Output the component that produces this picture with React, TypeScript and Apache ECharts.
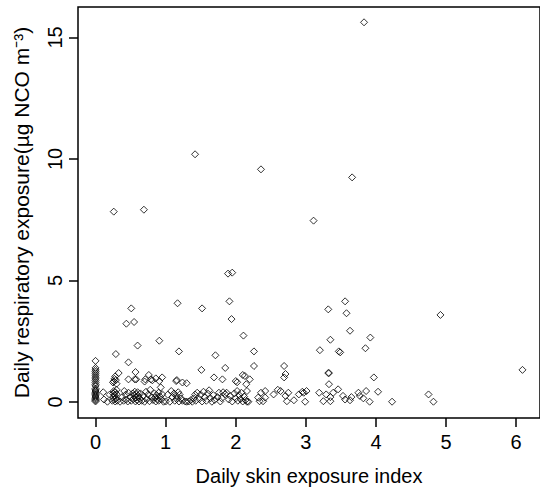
import React, { useEffect, useRef } from "react";
import * as echarts from "echarts";

const xTicks = [0, 1, 2, 3, 4, 5, 6];
const yTicks = [0, 5, 10, 15];

// points above 2
const highPoints: number[][] = [
  [3.83, 15.62], [1.42, 10.19], [2.36, 9.57], [3.66, 9.24], [0.26, 7.83], [0.69, 7.91],
  [3.11, 7.46], [1.89, 5.28], [1.95, 5.32], [1.91, 4.14], [1.17, 4.06], [3.56, 4.14],
  [0.51, 3.85], [1.52, 3.85], [3.32, 3.81], [3.58, 3.65], [4.92, 3.58], [1.94, 3.41],
  [0.44, 3.22], [0.55, 3.29], [3.63, 2.93], [2.11, 2.73], [3.92, 2.65], [3.35, 2.56],
  [0.91, 2.52], [0.6, 2.32], [3.2, 2.13], [1.19, 2.08], [2.26, 2.08], [3.47, 2.08],
  [3.49, 2.04], [3.85, 2.21],
];

// points between 0.6 and 2
const midPoints: number[][] = [
  [0.29, 1.97], [1.71, 1.92], [0.47, 1.63], [2.26, 1.48], [2.69, 1.48], [1.85, 1.4],
  [1.51, 1.32], [6.09, 1.32], [3.32, 1.19], [3.33, 1.19], [2.71, 1.15], [0.33, 1.19],
  [0.57, 1.23], [0.76, 1.11], [2.1, 1.11], [2.13, 1.07], [2.69, 1.01], [3.97, 1.01],
  [0.95, 1.01], [0.86, 0.97], [0.71, 0.93], [1.69, 1.01], [0.47, 0.93], [0.56, 0.93],
  [1.16, 0.9], [1.3, 0.77], [1.81, 0.93], [2.02, 0.81], [2.2, 0.93], [2.15, 0.73],
  [3.33, 0.73], [0.81, 0.89], [0.26, 0.85], [0.27, 0.95], [0.28, 1.05], [0.29, 0.9],
  [0.3, 0.75], [0.58, 0.93], [0.7, 0.84], [0.79, 0.93], [0.91, 0.86], [1.15, 0.86],
  [1.24, 0.8], [2.0, 0.86], [0.25, 0.8],
];

// column at x = 0
const zeroColumn: number[] = [
  0.02, 0.06, 0.1, 0.15, 0.2, 0.25, 0.3, 0.35, 0.4, 0.45, 0.5, 0.55, 0.66, 0.72, 0.8,
  0.88, 0.95, 1.02, 1.1, 1.18, 1.25, 1.32, 1.4, 1.69,
];

// dense band below 0.6
const lowPoints: number[][] = [
  [0.11, 0.4], [0.12, 0.1], [0.17, 0.01], [0.2, 0.3],
  [0.24, 0.05], [0.25, 0.2], [0.25, 0.35], [0.26, 0.45], [0.27, 0.1], [0.27, 0.28],
  [0.28, 0.4], [0.28, 0.02], [0.29, 0.15], [0.3, 0.32], [0.3, 0.5], [0.31, 0.05],
  [0.35, 0.01], [0.38, 0.2], [0.4, 0.05], [0.41, 0.45], [0.43, 0.3], [0.44, 0.1],
  [0.46, 0.02], [0.47, 0.38],
  [0.5, 0.2], [0.51, 0.05], [0.53, 0.35], [0.54, 0.12], [0.55, 0.28], [0.56, 0.42],
  [0.57, 0.02], [0.58, 0.18], [0.58, 0.32], [0.59, 0.08], [0.6, 0.4], [0.61, 0.25],
  [0.62, 0.02], [0.63, 0.15], [0.64, 0.35], [0.66, 0.05],
  [0.68, 0.25], [0.7, 0.01], [0.72, 0.42], [0.73, 0.12], [0.75, 0.3], [0.77, 0.03],
  [0.78, 0.5], [0.8, 0.2],
  [0.82, 0.08], [0.84, 0.35], [0.85, 0.18], [0.86, 0.02], [0.87, 0.28], [0.88, 0.12],
  [0.9, 0.38], [0.9, 0.05], [0.92, 0.22], [0.93, 0.6], [0.94, 0.1], [0.95, 0.32],
  [0.97, 0.01],
  [1.0, 0.02], [1.03, 0.3], [1.06, 0.01], [1.08, 0.45], [1.1, 0.2],
  [1.12, 0.35], [1.13, 0.05], [1.15, 0.25], [1.16, 0.12], [1.18, 0.4], [1.19, 0.02],
  [1.2, 0.3], [1.22, 0.15], [1.24, 0.05],
  [1.28, 0.02], [1.3, 0.01], [1.33, 0.02], [1.36, 0.08], [1.38, 0.01], [1.4, 0.15],
  [1.42, 0.3], [1.43, 0.05], [1.45, 0.38],
  [1.48, 0.12], [1.5, 0.3], [1.52, 0.02], [1.54, 0.42], [1.56, 0.2], [1.58, 0.05],
  [1.6, 0.35], [1.62, 0.48], [1.64, 0.15], [1.66, 0.01], [1.68, 0.28], [1.7, 0.08],
  [1.74, 0.2], [1.76, 0.38], [1.78, 0.02], [1.8, 0.15], [1.82, 0.4], [1.85, 0.32],
  [1.87, 0.38], [1.9, 0.1], [1.92, 0.25], [1.95, 0.02],
  [1.98, 0.35], [2.0, 0.15], [2.02, 0.45], [2.03, 0.05], [2.05, 0.28], [2.07, 0.12],
  [2.08, 0.38], [2.1, 0.02], [2.12, 0.22], [2.14, 0.08], [2.16, 0.01], [2.18, 0.01],
  [2.16, 0.45], [2.32, 0.18], [2.34, 0.03], [2.36, 0.38], [2.39, 0.03], [2.42, 0.45],
  [2.42, 0.18], [2.54, 0.31], [2.6, 0.5], [2.64, 0.45], [2.71, 0.25], [2.73, 0.03],
  [2.75, 0.38], [2.83, 0.07], [2.9, 0.31], [2.95, 0.42], [2.97, 0.38], [2.99, 0.01],
  [3.01, 0.45], [3.19, 0.38], [3.25, 0.03], [3.29, 0.31], [3.35, 0.2], [3.35, 0.03],
  [3.39, 0.38], [3.46, 0.52], [3.53, 0.25], [3.56, 0.1], [3.63, 0.07], [3.65, 0.2],
  [3.75, 0.38], [3.77, 0.25], [3.82, 0.15], [3.86, 0.45], [3.91, 0.01], [4.03, 0.42],
  [4.23, 0.01], [4.75, 0.31], [4.82, 0.01],
];

export default function App() {
  const ref = useRef<HTMLDivElement>(null);
  useEffect(() => {
    if (!ref.current) return;
    const chart = echarts.init(ref.current, undefined, { renderer: "svg" });
    const data = [
      ...highPoints,
      ...midPoints,
      ...zeroColumn.map((y) => [0, y]),
      ...lowPoints,
    ];
    const font = "Liberation Sans";
    chart.setOption({
      animation: false,
      backgroundColor: "#fff",
      grid: {
        left: 78,
        top: 7,
        right: -3,
        bottom: 73,
        show: true,
        borderColor: "#000",
        borderWidth: 1.5,
        backgroundColor: "transparent",
      },
      xAxis: {
        type: "value",
        min: -0.25,
        max: 6.34,
        name: "Daily skin exposure index",
        nameLocation: "middle",
        nameGap: 48,
        nameTextStyle: { fontFamily: font, fontSize: 20, color: "#000" },
        axisLine: { show: false, onZero: false },
        axisTick: { show: true, length: 9, lineStyle: { color: "#000", width: 1.5 }, customValues: xTicks },
        axisLabel: { fontFamily: font, fontSize: 20, color: "#000", margin: 14, customValues: xTicks },
        splitLine: { show: false },
      },
      yAxis: {
        type: "value",
        min: -0.66,
        max: 16.25,
        name: "Daily respiratory exposure(µg NCO m⁻³)",
        nameLocation: "middle",
        nameGap: 46,
        nameRotate: 90,
        nameTextStyle: { fontFamily: font, fontSize: 21, color: "#000" },
        axisLine: { show: false, onZero: false },
        axisTick: { show: true, length: 9, lineStyle: { color: "#000", width: 1.5 }, customValues: yTicks },
        axisLabel: { fontFamily: font, fontSize: 20, color: "#000", margin: 13, rotate: 90, customValues: yTicks },
        splitLine: { show: false },
      },
      series: [
        {
          type: "scatter",
          symbol: "diamond",
          symbolSize: 7,
          data,
          itemStyle: { color: "rgba(0,0,0,0)", borderColor: "#000", borderWidth: 1 },
        },
      ],
    });
    return () => chart.dispose();
  }, []);
  return (
    <div
      ref={ref}
      style={{ position: "fixed", left: 0, top: 0, width: 540, height: 491 }}
    />
  );
}
